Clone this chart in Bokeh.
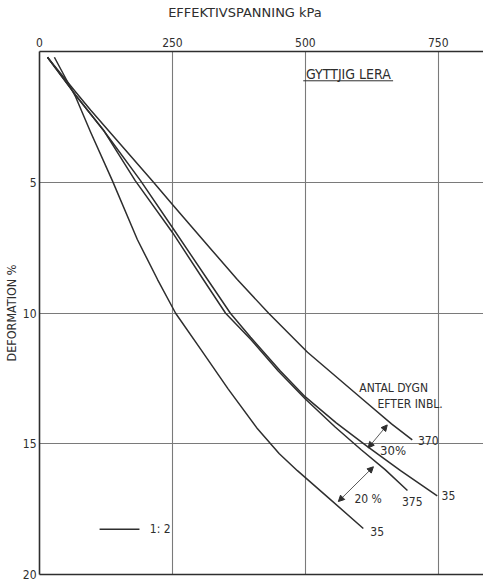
from bokeh.plotting import figure
from bokeh.models import (Range1d, FixedTicker, LinearAxis, Label, Arrow, NormalHead)
from bokeh.embed import file_html
from bokeh.resources import INLINE

# ---- data (effective stress kPa, deformation %) ----
x_ticks = [0, 250, 500, 750]
y_ticks = [5, 10, 15, 20]

# curve ending "35" (lowest, 20% group)
a_x = [28, 68, 96, 137, 184, 222, 256, 303, 355, 410, 451, 485, 543, 609]
a_y = [0.22, 1.74, 3.08, 4.94, 7.19, 8.72, 10.01, 11.38, 12.91, 14.43, 15.38, 16.03, 17.06, 18.24]
# curve ending "375"
b_x = [15, 68, 120, 180, 250, 308, 350, 397, 449, 500, 556, 605, 650, 692]
b_y = [0.22, 1.67, 3.0, 4.94, 6.92, 8.72, 10.01, 11.00, 12.22, 13.29, 14.36, 15.23, 15.99, 16.79]
# curve ending "35" (right)
c_x = [15, 68, 120, 190, 250, 316, 359, 397, 453, 500, 558, 615, 679, 748]
c_y = [0.22, 1.67, 3.0, 4.94, 6.73, 8.72, 10.01, 10.93, 12.22, 13.21, 14.20, 15.08, 16.03, 16.99]
# curve ending "370"
d_x = [15, 68, 96, 212, 252, 323, 372, 431, 504, 607, 662, 701]
d_y = [0.22, 1.55, 2.24, 4.94, 5.90, 7.57, 8.72, 10.01, 11.50, 13.29, 14.24, 14.85]

curve_labels = ["35", "375", "35", "370"]

FONT = "DejaVu Sans Condensed"
INK = "#2e2e2e"

p = figure(width=483, height=581, output_backend="svg", toolbar_location=None,
           x_range=Range1d(0, 835), y_range=Range1d(20, 0),
           x_axis_location=None, y_axis_location=None,
           min_border_left=39, min_border_top=51, min_border_bottom=7, min_border_right=0)
p.outline_line_color = None
p.background_fill_color = "white"

# axes
top = LinearAxis(ticker=FixedTicker(ticks=x_ticks),
                 axis_label="EFFEKTIVSPANNING kPa" + "\u00a0" * 8)
left = LinearAxis(ticker=FixedTicker(ticks=y_ticks), axis_label="DEFORMATION %")
bottom = LinearAxis(ticker=FixedTicker(ticks=[]))
for ax in (top, left, bottom):
    ax.axis_line_color = INK
    ax.axis_line_width = 1.6
    ax.major_tick_out = 0
    ax.major_tick_in = 0
    ax.minor_tick_out = 0
    ax.minor_tick_in = 0
    ax.major_label_text_font = FONT
    ax.major_label_text_font_size = "12px"
    ax.major_label_text_color = INK
    ax.major_label_standoff = 2
    ax.axis_label_text_font = FONT
    ax.axis_label_text_font_style = "normal"
    ax.axis_label_text_color = INK
top.axis_label_text_font = "DejaVu Sans"
top.axis_label_text_font_size = "13px"
top.major_label_standoff = 5
top.axis_label_standoff = 15
left.axis_label_text_font_size = "12.5px"
left.axis_label_standoff = 1
left.major_label_standoff = 3
bottom.major_label_text_font_size = "0px"
bottom.major_label_standoff = 0
p.add_layout(top, "above")
p.add_layout(left, "left")
p.add_layout(bottom, "below")

# grid
p.xgrid.ticker = FixedTicker(ticks=[250, 500, 750])
p.ygrid.ticker = FixedTicker(ticks=[5, 10, 15])
for g in (p.xgrid, p.ygrid):
    g.grid_line_color = "#7a7a7a"
    g.grid_line_width = 1.1

# curves
for xs, ys in ((a_x, a_y), (b_x, b_y), (c_x, c_y), (d_x, d_y)):
    p.line(xs, ys, line_color=INK, line_width=1.5, line_join="round")

def lab(x, y, t, size="12px", align="center"):
    p.add_layout(Label(x=x, y=y, text=t, text_font=FONT, text_font_size=size,
                       text_color=INK, text_align=align, text_baseline="middle"))

lab(581, 0.87, "GYTTJIG LERA", size="14px")
p.line([496, 665], [1.12, 1.12], line_color=INK, line_width=1)
lab(666, 12.87, "ANTAL DYGN")
lab(697, 13.48, "EFTER INBL.")
# end labels
lab(609 + 26, 18.36, curve_labels[0])
lab(692 + 9, 17.21, curve_labels[1])
lab(748 + 21, 16.98, curve_labels[2])
lab(701 + 30, 14.89, curve_labels[3])
lab(665, 15.27, "30%", size="13px")
lab(618, 17.10, "20 %")

# arrows
for xs, ys, xe, ye in ((654, 14.28, 618, 15.16), (628, 15.88, 562, 17.21)):
    p.add_layout(Arrow(start=NormalHead(size=6, fill_color=INK, line_color=INK),
                       end=NormalHead(size=6, fill_color=INK, line_color=INK),
                       x_start=xs, y_start=ys, x_end=xe, y_end=ye,
                       line_color=INK, line_width=0.8))

# legend
p.line([113, 188], [18.27, 18.27], line_color=INK, line_width=1.3)
lab(227, 18.25, "1: 2")

open("out.html", "w").write(file_html(p, INLINE))
